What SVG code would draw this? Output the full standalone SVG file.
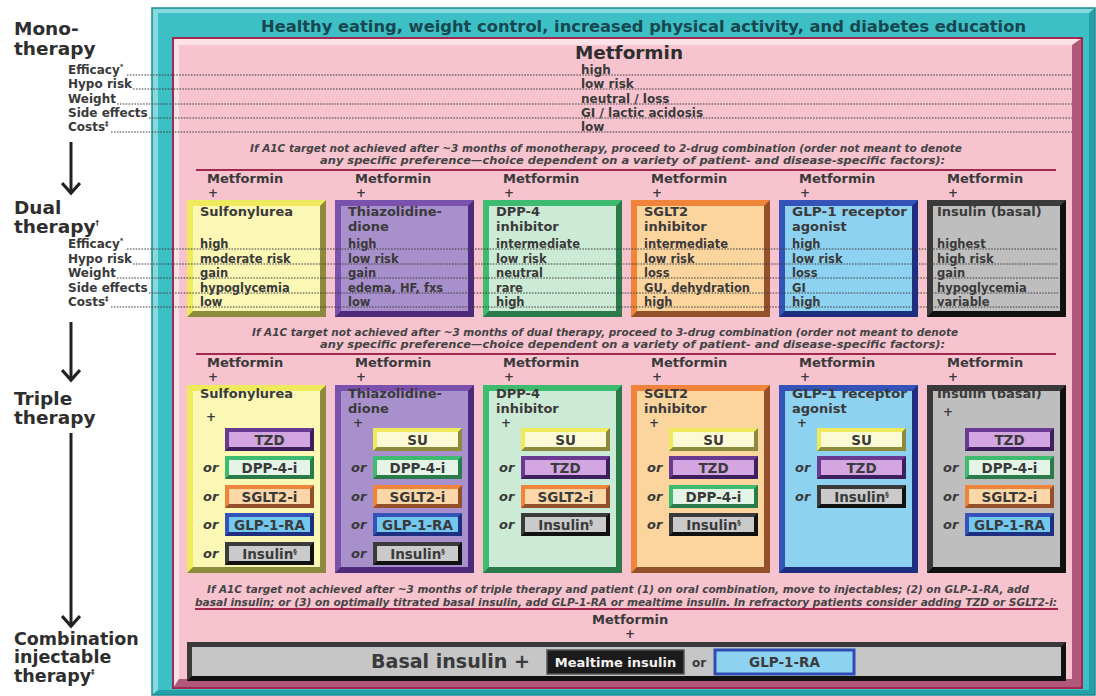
<svg xmlns="http://www.w3.org/2000/svg" width="1096" height="696" viewBox="0 0 1096 696">
<defs>
<style>
text{font-family:"DejaVu Sans","Liberation Sans",Arial,sans-serif;font-weight:bold;fill:#3a3a3a}
.h{font-size:18.5px;fill:#2e2e2e}
.hs{font-size:17.5px;fill:#2e2e2e}
.hdr{font-size:15.5px;fill:#17474f}
.lab{font-size:12px}
.v1{font-size:12px}
.v2{font-size:11.5px}
.ttl{font-size:13px}
.met{font-size:13px}
.mt{font-size:18px;fill:#2e2e2e}
.plus{font-size:12px}
.sub{font-size:13.5px;text-anchor:middle}
.it{font-style:italic;font-size:10px;fill:#444}
.or{font-style:italic;font-size:13px}
.sup{font-size:7px}
.dot{stroke:#3e3e3e;stroke-width:1;stroke-dasharray:1.6 1.3;fill:none}
.red{stroke:#a3284f;stroke-width:2.2}
.arrow{stroke:#222;stroke-width:3;fill:none}
.yel>.d,.su>.d{fill:#8c8a3c}.yel>.l,.su>.l{fill:#eeea5c}.yel>.f{fill:#fbf8b6}.su>.f{fill:#fcfad4}
.pur>.d{fill:#4d2b7a}.pur>.l{fill:#7a52ae}.pur>.f{fill:#a890cc}
.grn>.d,.dpp>.d{fill:#2a7a4a}.grn>.l,.dpp>.l{fill:#3dbb6e}.grn>.f{fill:#ccebd6}.dpp>.f{fill:#e4f5e8}
.org>.d,.sgl>.d{fill:#94502a}.org>.l,.sgl>.l{fill:#f0843a}.org>.f{fill:#fcd49e}.sgl>.f{fill:#fdd7a8}
.blu>.d,.glp>.d{fill:#1e2f82}.blu>.l,.glp>.l{fill:#3452b8}.blu>.f{fill:#8ed2f2}.glp>.f{fill:#72c8ef}
.gry>.d,.ins>.d{fill:#111}.gry>.l,.ins>.l{fill:#3a3a3a}.gry>.f{fill:#bebebe}.ins>.f{fill:#cacaca}
.tzd>.d{fill:#3e1f5e}.tzd>.l{fill:#6a3a92}.tzd>.f{fill:#d3a6e2}
</style>
<marker id="ah" viewBox="0 0 20 20" refX="17" refY="10" markerWidth="20" markerHeight="20" markerUnits="userSpaceOnUse" orient="auto">
<path d="M7,1 L17,10 L7,19" fill="none" stroke="#222" stroke-width="3.2"/>
</marker>
<rect id="dD" width="139" height="117"/>
<path id="dL" d="M0,0 H139 L133,6 H6 V111 L0,117 Z"/>
<rect id="dF" x="6" y="6" width="127" height="105"/>
<rect id="tD" width="139" height="188"/>
<path id="tL" d="M0,0 H139 L133,6 H6 V182 L0,188 Z"/>
<rect id="tF" x="6" y="6" width="127" height="176"/>
<rect id="sD" width="89" height="23"/>
<path id="sL" d="M0,0 H89 L85,4 H4 V19 L0,23 Z"/>
<rect id="sF" x="4" y="4" width="81" height="15"/>
</defs>

<rect width="1096" height="696" fill="#ffffff"/>

<g id="lifestyle-frame">
<rect x="152" y="8" width="943" height="687" fill="#23a0a8"/>
<polygon points="152,8 1095,8 1089,13 158,13 158,690 152,695" fill="#86d9dd"/>
<rect x="158" y="13" width="931" height="677" fill="#3dbfc6"/>
<rect x="152" y="8" width="943" height="687" fill="none" stroke="#1b8a92" stroke-width="1.5"/>
<text class="hdr" x="261" y="32" textLength="765" lengthAdjust="spacingAndGlyphs">Healthy eating, weight control, increased physical activity, and diabetes education</text>
</g>

<g id="metformin-frame">
<rect x="173" y="38" width="909" height="650" fill="#b0577a"/>
<polygon points="173,38 1082,38 1072,45 179,45 179,679 173,688" fill="#fbe1e8"/>
<rect x="179" y="45" width="893" height="634" fill="#f6c3cf"/>
<rect x="173" y="38" width="909" height="650" fill="none" stroke="#a3284f" stroke-width="2"/>
</g>

<g id="stage-labels">
<text class="h" x="14" y="35">Mono-</text>
<text class="h" x="14" y="55">therapy</text>
<text class="h" x="14" y="214">Dual</text>
<text class="h" x="14" y="233">therapy<tspan class="sup" dy="-8">†</tspan></text>
<text class="h" x="14" y="405">Triple</text>
<text class="h" x="14" y="424">therapy</text>
<text class="hs" x="14" y="645">Combination</text>
<text class="hs" x="14" y="663">injectable</text>
<text class="hs" x="14" y="682">therapy<tspan class="sup" dy="-8">‡</tspan></text>
<text class="lab" x="68" y="74">Efficacy<tspan class="sup" dy="-5">*</tspan></text>
<text class="lab" x="68" y="88">Hypo risk</text>
<text class="lab" x="68" y="103">Weight</text>
<text class="lab" x="68" y="117">Side effects</text>
<text class="lab" x="68" y="131">Costs<tspan class="sup" dy="-5">‡</tspan></text>
<text class="lab" x="68" y="248">Efficacy<tspan class="sup" dy="-5">*</tspan></text>
<text class="lab" x="68" y="263">Hypo risk</text>
<text class="lab" x="68" y="277">Weight</text>
<text class="lab" x="68" y="292">Side effects</text>
<text class="lab" x="68" y="306">Costs<tspan class="sup" dy="-5">‡</tspan></text>
</g>

<g id="mono-metformin">
<text class="mt" x="575" y="59" textLength="108" lengthAdjust="spacingAndGlyphs">Metformin</text>
<text class="v1" x="581" y="74">high</text>
<text class="v1" x="581" y="88">low risk</text>
<text class="v1" x="581" y="103">neutral / loss</text>
<text class="v1" x="581" y="117">GI / lactic acidosis</text>
<text class="v1" x="581" y="131">low</text>
<text class="it" x="250" y="152" textLength="712" lengthAdjust="spacingAndGlyphs">If A1C target not achieved after ~3 months of monotherapy, proceed to 2-drug combination (order not meant to denote</text>
<text class="it" x="320" y="164" textLength="625" lengthAdjust="spacingAndGlyphs">any specific preference—choice dependent on a variety of patient- and disease-specific factors):</text>
<line class="red" x1="196" y1="170" x2="1056" y2="170"/>
</g>

<g id="dual-sulfonylurea" class="yel" transform="translate(187,200)">
<text class="met" x="20" y="-17">Metformin</text>
<text class="plus" x="21" y="-3">+</text>
<use href="#dD" class="d"/><use href="#dL" class="l"/><use href="#dF" class="f"/>
<text class="ttl" x="13" y="16">Sulfonylurea</text>
<text class="v2" x="13" y="48">high</text>
<text class="v2" x="13" y="63">moderate risk</text>
<text class="v2" x="13" y="77">gain</text>
<text class="v2" x="13" y="92">hypoglycemia</text>
<text class="v2" x="13" y="106">low</text>
</g>

<g id="dual-thiazolidinedione" class="pur" transform="translate(335,200)">
<text class="met" x="20" y="-17">Metformin</text>
<text class="plus" x="21" y="-3">+</text>
<use href="#dD" class="d"/><use href="#dL" class="l"/><use href="#dF" class="f"/>
<text class="ttl" x="13" y="16">Thiazolidine-</text>
<text class="ttl" x="13" y="31">dione</text>
<text class="v2" x="13" y="48">high</text>
<text class="v2" x="13" y="63">low risk</text>
<text class="v2" x="13" y="77">gain</text>
<text class="v2" x="13" y="92">edema, HF, fxs</text>
<text class="v2" x="13" y="106">low</text>
</g>

<g id="dual-dpp4" class="grn" transform="translate(483,200)">
<text class="met" x="20" y="-17">Metformin</text>
<text class="plus" x="21" y="-3">+</text>
<use href="#dD" class="d"/><use href="#dL" class="l"/><use href="#dF" class="f"/>
<text class="ttl" x="13" y="16">DPP-4</text>
<text class="ttl" x="13" y="31">inhibitor</text>
<text class="v2" x="13" y="48">intermediate</text>
<text class="v2" x="13" y="63">low risk</text>
<text class="v2" x="13" y="77">neutral</text>
<text class="v2" x="13" y="92">rare</text>
<text class="v2" x="13" y="106">high</text>
</g>

<g id="dual-sglt2" class="org" transform="translate(631,200)">
<text class="met" x="20" y="-17">Metformin</text>
<text class="plus" x="21" y="-3">+</text>
<use href="#dD" class="d"/><use href="#dL" class="l"/><use href="#dF" class="f"/>
<text class="ttl" x="13" y="16">SGLT2</text>
<text class="ttl" x="13" y="31">inhibitor</text>
<text class="v2" x="13" y="48">intermediate</text>
<text class="v2" x="13" y="63">low risk</text>
<text class="v2" x="13" y="77">loss</text>
<text class="v2" x="13" y="92">GU, dehydration</text>
<text class="v2" x="13" y="106">high</text>
</g>

<g id="dual-glp1" class="blu" transform="translate(779,200)">
<text class="met" x="20" y="-17">Metformin</text>
<text class="plus" x="21" y="-3">+</text>
<use href="#dD" class="d"/><use href="#dL" class="l"/><use href="#dF" class="f"/>
<text class="ttl" x="13" y="16" textLength="115" lengthAdjust="spacingAndGlyphs">GLP-1 receptor</text>
<text class="ttl" x="13" y="31">agonist</text>
<text class="v2" x="13" y="48">high</text>
<text class="v2" x="13" y="63">low risk</text>
<text class="v2" x="13" y="77">loss</text>
<text class="v2" x="13" y="92">GI</text>
<text class="v2" x="13" y="106">high</text>
</g>

<g id="dual-insulin" class="gry" transform="translate(927,200)">
<text class="met" x="20" y="-17">Metformin</text>
<text class="plus" x="21" y="-3">+</text>
<use href="#dD" class="d"/><use href="#dL" class="l"/><use href="#dF" class="f"/>
<text class="ttl" x="10" y="16">Insulin (basal)</text>
<text class="v2" x="10" y="48">highest</text>
<text class="v2" x="10" y="63">high risk</text>
<text class="v2" x="10" y="77">gain</text>
<text class="v2" x="10" y="92">hypoglycemia</text>
<text class="v2" x="10" y="106">variable</text>
</g>

<g id="dual-note">
<text class="it" x="252" y="336" textLength="706" lengthAdjust="spacingAndGlyphs">If A1C target not achieved after ~3 months of dual therapy, proceed to 3-drug combination (order not meant to denote</text>
<text class="it" x="320" y="348" textLength="625" lengthAdjust="spacingAndGlyphs">any specific preference—choice dependent on a variety of patient- and disease-specific factors):</text>
<line class="red" x1="196" y1="354" x2="1056" y2="354"/>
</g>

<g id="triple-sulfonylurea" class="yel" transform="translate(187,385)">
<text class="met" x="20" y="-18">Metformin</text>
<text class="plus" x="21" y="-4">+</text>
<use href="#tD" class="d"/><use href="#tL" class="l"/><use href="#tF" class="f"/>
<text class="ttl" x="13" y="13">Sulfonylurea</text>
<text class="plus" x="19" y="36">+</text>
<g class="tzd" transform="translate(38,43)"><use href="#sD" class="d"/><use href="#sL" class="l"/><use href="#sF" class="f"/><text class="sub" x="44.5" y="16.5">TZD</text></g>
<text class="or" x="16" y="87">or</text>
<g class="dpp" transform="translate(38,71)"><use href="#sD" class="d"/><use href="#sL" class="l"/><use href="#sF" class="f"/><text class="sub" x="44.5" y="16.5">DPP-4-i</text></g>
<text class="or" x="16" y="116">or</text>
<g class="sgl" transform="translate(38,100)"><use href="#sD" class="d"/><use href="#sL" class="l"/><use href="#sF" class="f"/><text class="sub" x="44.5" y="16.5">SGLT2-i</text></g>
<text class="or" x="16" y="144">or</text>
<g class="glp" transform="translate(38,128)"><use href="#sD" class="d"/><use href="#sL" class="l"/><use href="#sF" class="f"/><text class="sub" x="44.5" y="16.5">GLP-1-RA</text></g>
<text class="or" x="16" y="173">or</text>
<g class="ins" transform="translate(38,157)"><use href="#sD" class="d"/><use href="#sL" class="l"/><use href="#sF" class="f"/><text class="sub" x="44.5" y="16.5">Insulin<tspan class="sup" dy="-5">§</tspan></text></g>
</g>

<g id="triple-thiazolidinedione" class="pur" transform="translate(335,385)">
<text class="met" x="20" y="-18">Metformin</text>
<text class="plus" x="21" y="-4">+</text>
<use href="#tD" class="d"/><use href="#tL" class="l"/><use href="#tF" class="f"/>
<text class="ttl" x="13" y="13">Thiazolidine-</text>
<text class="ttl" x="13" y="28">dione</text>
<text class="plus" x="18" y="42">+</text>
<g class="su" transform="translate(38,43)"><use href="#sD" class="d"/><use href="#sL" class="l"/><use href="#sF" class="f"/><text class="sub" x="44.5" y="16.5">SU</text></g>
<text class="or" x="16" y="87">or</text>
<g class="dpp" transform="translate(38,71)"><use href="#sD" class="d"/><use href="#sL" class="l"/><use href="#sF" class="f"/><text class="sub" x="44.5" y="16.5">DPP-4-i</text></g>
<text class="or" x="16" y="116">or</text>
<g class="sgl" transform="translate(38,100)"><use href="#sD" class="d"/><use href="#sL" class="l"/><use href="#sF" class="f"/><text class="sub" x="44.5" y="16.5">SGLT2-i</text></g>
<text class="or" x="16" y="144">or</text>
<g class="glp" transform="translate(38,128)"><use href="#sD" class="d"/><use href="#sL" class="l"/><use href="#sF" class="f"/><text class="sub" x="44.5" y="16.5">GLP-1-RA</text></g>
<text class="or" x="16" y="173">or</text>
<g class="ins" transform="translate(38,157)"><use href="#sD" class="d"/><use href="#sL" class="l"/><use href="#sF" class="f"/><text class="sub" x="44.5" y="16.5">Insulin<tspan class="sup" dy="-5">§</tspan></text></g>
</g>

<g id="triple-dpp4" class="grn" transform="translate(483,385)">
<text class="met" x="20" y="-18">Metformin</text>
<text class="plus" x="21" y="-4">+</text>
<use href="#tD" class="d"/><use href="#tL" class="l"/><use href="#tF" class="f"/>
<text class="ttl" x="13" y="13">DPP-4</text>
<text class="ttl" x="13" y="28">inhibitor</text>
<text class="plus" x="18" y="42">+</text>
<g class="su" transform="translate(38,43)"><use href="#sD" class="d"/><use href="#sL" class="l"/><use href="#sF" class="f"/><text class="sub" x="44.5" y="16.5">SU</text></g>
<text class="or" x="16" y="87">or</text>
<g class="tzd" transform="translate(38,71)"><use href="#sD" class="d"/><use href="#sL" class="l"/><use href="#sF" class="f"/><text class="sub" x="44.5" y="16.5">TZD</text></g>
<text class="or" x="16" y="116">or</text>
<g class="sgl" transform="translate(38,100)"><use href="#sD" class="d"/><use href="#sL" class="l"/><use href="#sF" class="f"/><text class="sub" x="44.5" y="16.5">SGLT2-i</text></g>
<text class="or" x="16" y="144">or</text>
<g class="ins" transform="translate(38,128)"><use href="#sD" class="d"/><use href="#sL" class="l"/><use href="#sF" class="f"/><text class="sub" x="44.5" y="16.5">Insulin<tspan class="sup" dy="-5">§</tspan></text></g>
</g>

<g id="triple-sglt2" class="org" transform="translate(631,385)">
<text class="met" x="20" y="-18">Metformin</text>
<text class="plus" x="21" y="-4">+</text>
<use href="#tD" class="d"/><use href="#tL" class="l"/><use href="#tF" class="f"/>
<text class="ttl" x="13" y="13">SGLT2</text>
<text class="ttl" x="13" y="28">inhibitor</text>
<text class="plus" x="18" y="42">+</text>
<g class="su" transform="translate(38,43)"><use href="#sD" class="d"/><use href="#sL" class="l"/><use href="#sF" class="f"/><text class="sub" x="44.5" y="16.5">SU</text></g>
<text class="or" x="16" y="87">or</text>
<g class="tzd" transform="translate(38,71)"><use href="#sD" class="d"/><use href="#sL" class="l"/><use href="#sF" class="f"/><text class="sub" x="44.5" y="16.5">TZD</text></g>
<text class="or" x="16" y="116">or</text>
<g class="dpp" transform="translate(38,100)"><use href="#sD" class="d"/><use href="#sL" class="l"/><use href="#sF" class="f"/><text class="sub" x="44.5" y="16.5">DPP-4-i</text></g>
<text class="or" x="16" y="144">or</text>
<g class="ins" transform="translate(38,128)"><use href="#sD" class="d"/><use href="#sL" class="l"/><use href="#sF" class="f"/><text class="sub" x="44.5" y="16.5">Insulin<tspan class="sup" dy="-5">§</tspan></text></g>
</g>

<g id="triple-glp1" class="blu" transform="translate(779,385)">
<text class="met" x="20" y="-18">Metformin</text>
<text class="plus" x="21" y="-4">+</text>
<use href="#tD" class="d"/><use href="#tL" class="l"/><use href="#tF" class="f"/>
<text class="ttl" x="13" y="13" textLength="115" lengthAdjust="spacingAndGlyphs">GLP-1 receptor</text>
<text class="ttl" x="13" y="28">agonist</text>
<text class="plus" x="18" y="42">+</text>
<g class="su" transform="translate(38,43)"><use href="#sD" class="d"/><use href="#sL" class="l"/><use href="#sF" class="f"/><text class="sub" x="44.5" y="16.5">SU</text></g>
<text class="or" x="16" y="87">or</text>
<g class="tzd" transform="translate(38,71)"><use href="#sD" class="d"/><use href="#sL" class="l"/><use href="#sF" class="f"/><text class="sub" x="44.5" y="16.5">TZD</text></g>
<text class="or" x="16" y="116">or</text>
<g class="ins" transform="translate(38,100)"><use href="#sD" class="d"/><use href="#sL" class="l"/><use href="#sF" class="f"/><text class="sub" x="44.5" y="16.5">Insulin<tspan class="sup" dy="-5">§</tspan></text></g>
</g>

<g id="triple-insulin" class="gry" transform="translate(927,385)">
<text class="met" x="20" y="-18">Metformin</text>
<text class="plus" x="21" y="-4">+</text>
<use href="#tD" class="d"/><use href="#tL" class="l"/><use href="#tF" class="f"/>
<text class="ttl" x="10" y="13">Insulin (basal)</text>
<text class="plus" x="16" y="31">+</text>
<g class="tzd" transform="translate(38,43)"><use href="#sD" class="d"/><use href="#sL" class="l"/><use href="#sF" class="f"/><text class="sub" x="44.5" y="16.5">TZD</text></g>
<text class="or" x="16" y="87">or</text>
<g class="dpp" transform="translate(38,71)"><use href="#sD" class="d"/><use href="#sL" class="l"/><use href="#sF" class="f"/><text class="sub" x="44.5" y="16.5">DPP-4-i</text></g>
<text class="or" x="16" y="116">or</text>
<g class="sgl" transform="translate(38,100)"><use href="#sD" class="d"/><use href="#sL" class="l"/><use href="#sF" class="f"/><text class="sub" x="44.5" y="16.5">SGLT2-i</text></g>
<text class="or" x="16" y="144">or</text>
<g class="glp" transform="translate(38,128)"><use href="#sD" class="d"/><use href="#sL" class="l"/><use href="#sF" class="f"/><text class="sub" x="44.5" y="16.5">GLP-1-RA</text></g>
</g>

<g id="triple-note">
<text class="it" x="207" y="593" textLength="822" lengthAdjust="spacingAndGlyphs">If A1C target not achieved after ~3 months of triple therapy and patient (1) on oral combination, move to injectables; (2) on GLP-1-RA, add</text>
<text class="it" x="195" y="606" textLength="862" lengthAdjust="spacingAndGlyphs">basal insulin; or (3) on optimally titrated basal insulin, add GLP-1-RA or mealtime insulin. In refractory patients consider adding TZD or SGLT2-i:</text>
<line class="red" x1="195" y1="609" x2="1058" y2="609"/>
</g>

<g id="combination-injectable">
<text class="met" x="592" y="624">Metformin</text>
<text class="plus" x="625" y="638">+</text>
<rect x="187" y="642" width="879" height="39" fill="#111"/>
<polygon points="187,642 1066,642 1061,647 192,647 192,676 187,681" fill="#3a3a3a"/>
<rect x="192" y="647" width="869" height="29" fill="#c6c6c6"/>
<text x="371" y="668" style="font-size:19px" textLength="159" lengthAdjust="spacingAndGlyphs">Basal insulin +</text>
<rect x="547" y="650" width="137" height="24" fill="#1b1b1b" stroke="#555" stroke-width="1.5"/>
<text x="615.5" y="667" style="font-size:13px;fill:#f2f2f2;text-anchor:middle">Mealtime insulin</text>
<text x="692" y="667" style="font-size:12px">or</text>
<rect x="715" y="650" width="139" height="24" fill="#8ed2f2" stroke="#2e4cb4" stroke-width="3"/>
<text x="784.5" y="667" style="font-size:13.5px;text-anchor:middle">GLP-1-RA</text>
</g>

<g id="connectors">
<line class="arrow" x1="71" y1="142" x2="71" y2="193" marker-end="url(#ah)"/>
<line class="arrow" x1="71" y1="322" x2="71" y2="380" marker-end="url(#ah)"/>
<line class="arrow" x1="71" y1="433" x2="71" y2="626" marker-end="url(#ah)"/>
</g>

<g id="guide-lines">
<line class="dot" x1="127" y1="75" x2="1072" y2="75"/>
<line class="dot" x1="133" y1="89" x2="1072" y2="89"/>
<line class="dot" x1="117" y1="104" x2="1072" y2="104"/>
<line class="dot" x1="149" y1="118" x2="1072" y2="118"/>
<line class="dot" x1="111" y1="132" x2="1072" y2="132"/>
<line class="dot" x1="127" y1="249" x2="1058" y2="249"/>
<line class="dot" x1="133" y1="264" x2="1058" y2="264"/>
<line class="dot" x1="117" y1="278" x2="1058" y2="278"/>
<line class="dot" x1="149" y1="293" x2="1058" y2="293"/>
<line class="dot" x1="111" y1="307" x2="1058" y2="307"/>
</g>
</svg>
